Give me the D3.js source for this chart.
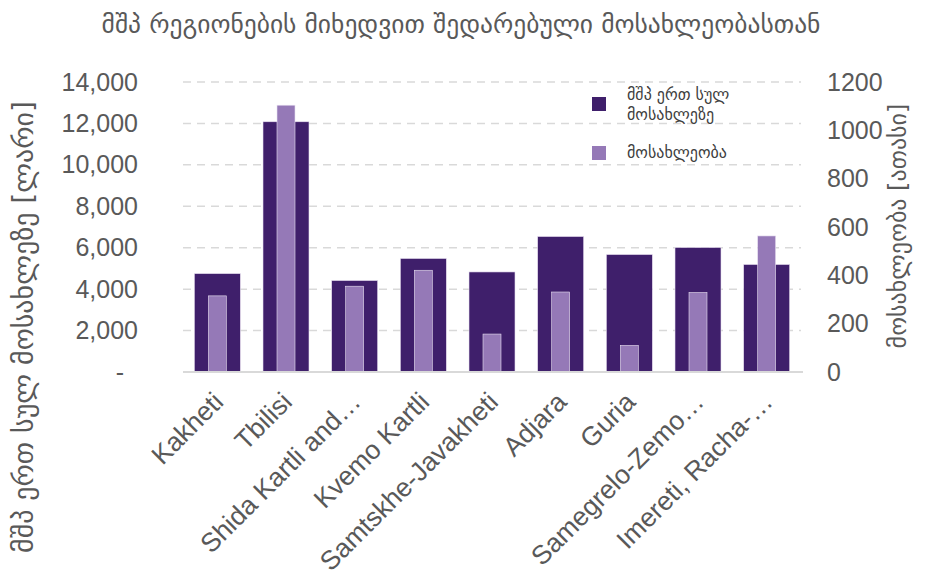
<!DOCTYPE html>
<html>
<head>
<meta charset="utf-8">
<script src="https://cdn.jsdelivr.net/npm/d3@7"></script>
<style>
body { margin: 0; background: #fff; }
.grid line { stroke: #d9d9d9; stroke-width: 1.5px; stroke-dasharray: 8 6; }
.tick text { fill: #595959; }
</style>
</head>
<body>
<svg id="chart"></svg>
<script>
var regions = ["Kakheti", "Tbilisi", "Shida Kartli and…", "Kvemo Kartli", "Samtskhe-Javakheti", "Adjara", "Guria", "Samegrelo-Zemo…", "Imereti, Racha-…"]
var gdpPerCapita = [4750, 12080, 4415, 5480, 4830, 6540, 5670, 6010, 5190]
var population = [315, 1104, 355, 421, 157, 331, 110, 329, 563]
var leftTicks = [0, 2000, 4000, 6000, 8000, 10000, 12000, 14000]
var rightTicks = [0, 200, 400, 600, 800, 1000, 1200]

var title = "მშპ რეგიონების მიხედვით შედარებული მოსახლეობასთან"
var leftTitle = "მშპ ერთ სულ მოსახლეზე [ლარი]"
var rightTitle = "მოსახლეობა [ათასი]"
var legendNames = [["მშპ ერთ სულ", "მოსახლეზე"], ["მოსახლეობა"]]

var w = 927, h = 579
var dark = "#3f1f6b", light = "#9579b7"
var geo = "'DejaVu Sans', sans-serif"
var latin = "'Liberation Sans', Arial, sans-serif"
var svg = d3.select("#chart").attr("width", w).attr("height", h)

var x = d3.scaleBand().domain(regions).range([183, 801])
var yL = d3.scaleLinear().domain([0, 14000]).range([372, 82])
var yR = d3.scaleLinear().domain([0, 1200]).range([372, 82])

// gridlines
svg.append("g").classed("grid", true).selectAll("line")
  .data(leftTicks.slice(1)).enter().append("line")
  .attr("x1", 183).attr("x2", 801)
  .attr("y1", function(d){ return yL(d) }).attr("y2", function(d){ return yL(d) })

// bars
var bw = 46, lw = 18
svg.append("g").selectAll("rect").data(gdpPerCapita).enter().append("rect")
  .attr("x", function(d, i){ return x(regions[i]) + x.bandwidth() / 2 - bw / 2 })
  .attr("y", function(d){ return yL(d) })
  .attr("width", bw)
  .attr("height", function(d){ return yL(0) - yL(d) })
  .style("fill", dark).style("stroke", "#e8e0f0").style("stroke-width", 0.6)
svg.append("g").selectAll("rect").data(population).enter().append("rect")
  .attr("x", function(d, i){ return x(regions[i]) + x.bandwidth() / 2 - lw / 2 })
  .attr("y", function(d){ return yR(d) })
  .attr("width", lw)
  .attr("height", function(d){ return yR(0) - yR(d) })
  .style("fill", light).style("stroke", "#e8e0f0").style("stroke-width", 0.6)

// baseline
svg.append("line").attr("x1", 183).attr("x2", 803)
  .attr("y1", yL(0)).attr("y2", yL(0))
  .style("stroke", "#d9d9d9").style("stroke-width", 2)

// left axis
var leftAxis = d3.axisLeft(yL).tickValues(leftTicks).tickSize(0).tickPadding(0)
  .tickFormat(function(d){ return d === 0 ? "-" : d3.format(",")(d) })
var gl = svg.append("g").attr("transform", "translate(138,0)").call(leftAxis)
gl.select(".domain").remove()
gl.selectAll("text").style("font-family", latin).style("font-size", "25px").attr("dx", function(d){ return d === 0 ? -14 : 0 })

// right axis
var rightAxis = d3.axisRight(yR).tickValues(rightTicks).tickSize(0).tickPadding(0).tickFormat(d3.format("d"))
var gr = svg.append("g").attr("transform", "translate(827,0)").call(rightAxis)
gr.select(".domain").remove()
gr.selectAll("text").style("font-family", latin).style("font-size", "25px")

// x labels
svg.append("g").selectAll("text").data(regions).enter().append("text")
  .attr("transform", function(d){ return "translate(" + (x(d) + x.bandwidth() / 2 + 1) + ",397) rotate(-45)" })
  .attr("text-anchor", "end")
  .attr("dy", "0.35em")
  .style("font-family", latin).style("font-size", "26.5px").style("fill", "#595959")
  .text(function(d){ return d })

// titles
svg.append("text").attr("x", 461).attr("y", 33).attr("text-anchor", "middle")
  .style("font-family", geo).style("font-size", "25.5px").style("fill", "#595959")
  .text(title)
svg.append("text").attr("transform", "translate(33,327) rotate(-90)").attr("text-anchor", "middle")
  .style("font-family", geo).style("font-size", "28px").style("fill", "#595959")
  .text(leftTitle)
svg.append("text").attr("transform", "translate(906,226) rotate(-90)").attr("text-anchor", "middle")
  .style("font-family", geo).style("font-size", "24px").style("fill", "#595959")
  .text(rightTitle)

// legend
var legend = svg.append("g")
var legendRows = [{ c: dark, y: 104, lines: legendNames[0] }, { c: light, y: 153, lines: legendNames[1] }]
legendRows.forEach(function(r){
  legend.append("rect").attr("x", 592).attr("y", r.y - 7).attr("width", 14).attr("height", 14).style("fill", r.c)
  var t = legend.append("text").attr("x", 627).attr("y", r.y - (r.lines.length - 1) * 9.5 + 5)
    .style("font-family", geo).style("font-size", "16px").style("fill", "#404040")
  r.lines.forEach(function(l, i){
    t.append("tspan").attr("x", 627).attr("dy", i === 0 ? 0 : 20).text(l)
  })
})
</script>
</body>
</html>
